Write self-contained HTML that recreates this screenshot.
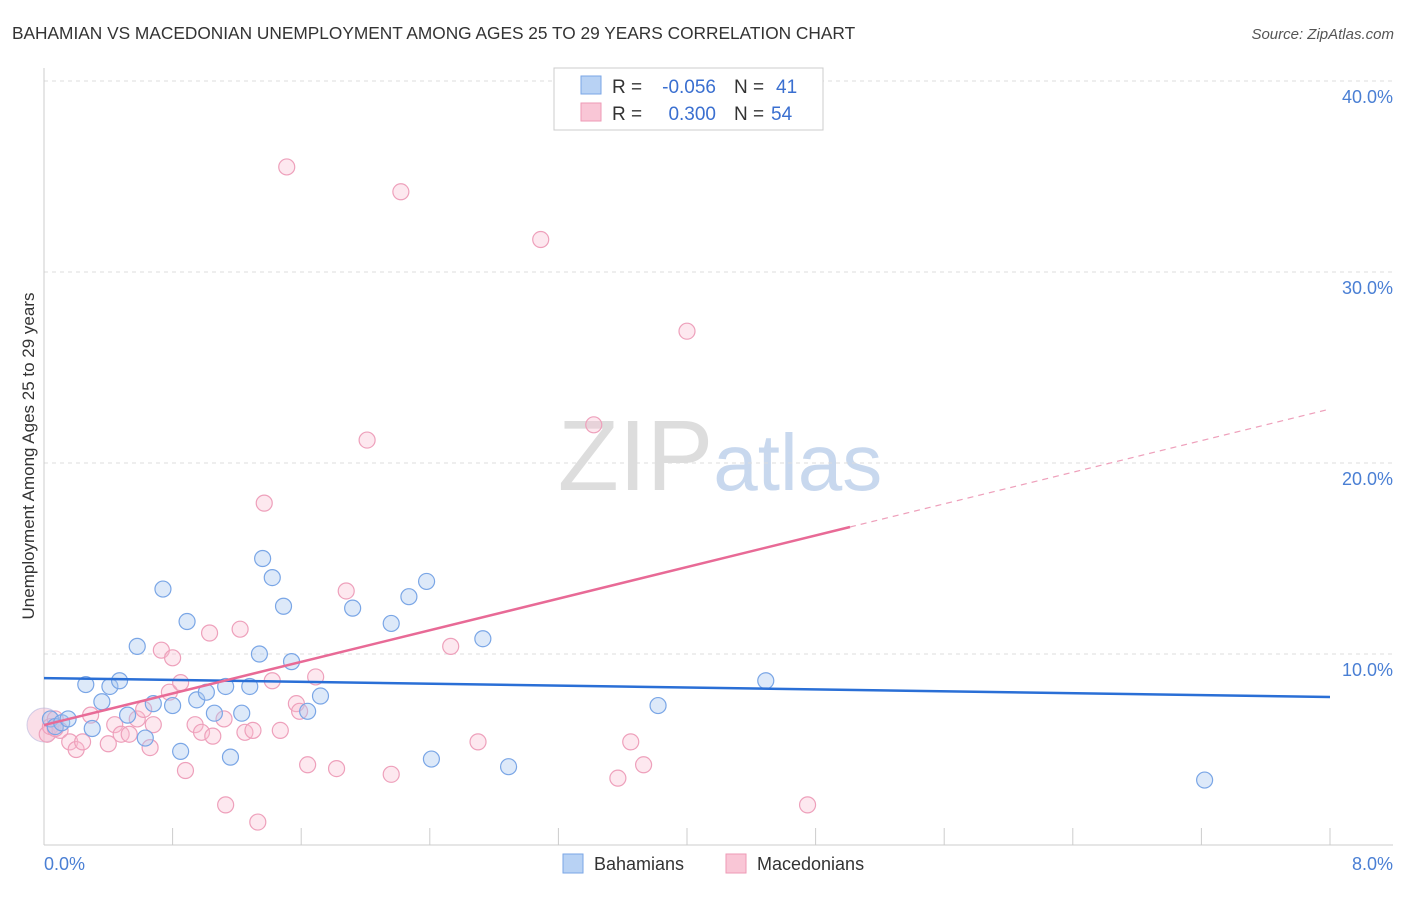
<!DOCTYPE html>
<html><head><meta charset="utf-8"><style>
body{margin:0;background:#fff;font-family:"Liberation Sans",sans-serif}
svg text{font-family:"Liberation Sans",sans-serif}
</style></head><body>
<svg id="chart" width="1406" height="892" viewBox="0 0 1406 892" xmlns="http://www.w3.org/2000/svg">
<text x="12" y="39" font-size="17.3" fill="#333">BAHAMIAN VS MACEDONIAN UNEMPLOYMENT AMONG AGES 25 TO 29 YEARS CORRELATION CHART</text>
<text x="1394" y="39" font-size="15" fill="#555" font-style="italic" text-anchor="end">Source: ZipAtlas.com</text>
<text x="720" y="490" font-size="100" text-anchor="middle" fill="#ddd" font-family="Liberation Serif">ZIP<tspan fill="#c8d8ee" font-family="Liberation Sans" font-size="80">atlas</tspan></text>
<g id="grid"></g>
<g id="axes"></g>
<g id="points"></g>
<g id="trends"></g>
<text transform="translate(34,456) rotate(-90)" font-size="17" fill="#333" text-anchor="middle">Unemployment Among Ages 25 to 29 years</text>
<text x="44" y="870" font-size="18" fill="#4a7fd4">0.0%</text>
<text x="1393" y="870" font-size="18" fill="#4a7fd4" text-anchor="end">8.0%</text>
<g>
<rect x="554" y="68" width="269" height="62" fill="#fff" stroke="#ccc"/>
<rect x="581" y="76" width="20" height="18" fill="#b8d2f4" stroke="#7aa6e6"/>
<rect x="581" y="103" width="20" height="18" fill="#f9c6d6" stroke="#ee9ab6"/>
<text x="612" y="93" font-size="19" fill="#333">R =</text>
<text x="716" y="93" font-size="19" fill="#3a6fd0" text-anchor="end">-0.056</text>
<text x="734" y="93" font-size="19" fill="#333">N =</text>
<text x="776" y="93" font-size="19" fill="#3a6fd0">41</text>
<text x="612" y="120" font-size="19" fill="#333">R =</text>
<text x="716" y="120" font-size="19" fill="#3a6fd0" text-anchor="end">0.300</text>
<text x="734" y="120" font-size="19" fill="#333">N =</text>
<text x="771" y="120" font-size="19" fill="#3a6fd0">54</text>
</g>
<g>
<rect x="563" y="854" width="20" height="19" fill="#b8d2f4" stroke="#7aa6e6"/>
<text x="594" y="870" font-size="18" fill="#333">Bahamians</text>
<rect x="726" y="854" width="20" height="19" fill="#f9c6d6" stroke="#ee9ab6"/>
<text x="757" y="870" font-size="18" fill="#333">Macedonians</text>
</g>
</svg>
<script>
const yTicks=[10,20,30,40];
const yTickLabels=["10.0%","20.0%","30.0%","40.0%"];
const xTicks=[0,0.8,1.6,2.4,3.2,4.0,4.8,5.6,6.4,7.2,8.0];
const bahX=[0.04,0.07,0.11,0.15,0.26,0.30,0.36,0.41,0.47,0.52,0.58,0.63,0.68,0.74,0.80,0.85,0.89,0.95,1.01,1.06,1.13,1.16,1.23,1.28,1.34,1.36,1.42,1.49,1.54,1.64,1.72,1.92,2.16,2.27,2.38,2.41,2.73,2.89,3.82,4.49,7.22];
const bahY=[6.6,6.2,6.4,6.6,8.4,6.1,7.5,8.3,8.6,6.8,10.4,5.6,7.4,13.4,7.3,4.9,11.7,7.6,8.0,6.9,8.3,4.6,6.9,8.3,10.0,15.0,14.0,12.5,9.6,7.0,7.8,12.4,11.6,13.0,13.8,4.5,10.8,4.1,7.3,8.6,3.4];
const macX=[0.02,0.04,0.07,0.10,0.16,0.20,0.24,0.29,0.40,0.44,0.48,0.53,0.58,0.62,0.66,0.68,0.73,0.78,0.80,0.85,0.88,0.94,0.98,1.03,1.05,1.12,1.13,1.22,1.25,1.30,1.33,1.37,1.42,1.47,1.51,1.57,1.59,1.64,1.69,1.82,1.88,2.01,2.16,2.22,2.53,2.70,3.09,3.42,3.57,3.65,3.73,4.00,4.75,0.07];
const macY=[5.8,6.2,6.6,6.0,5.4,5.0,5.4,6.8,5.3,6.3,5.8,5.8,6.6,7.1,5.1,6.3,10.2,8.0,9.8,8.5,3.9,6.3,5.9,11.1,5.7,6.6,2.1,11.3,5.9,6.0,1.2,17.9,8.6,6.0,35.5,7.4,7.0,4.2,8.8,4.0,13.3,21.2,3.7,34.2,10.4,5.4,31.7,22.0,3.5,5.4,4.2,26.9,2.1,6.1];
const bahTrend=[8.74,7.75];
const macTrend=[6.28,2.068];
const X=v=>44+v*160.75, Y=v=>845-v*19.1;
const NS="http://www.w3.org/2000/svg";
function mk(t,a,p){const e=document.createElementNS(NS,t);for(const k in a)e.setAttribute(k,a[k]);p.appendChild(e);return e;}
const grid=document.getElementById('grid'),axes=document.getElementById('axes'),pts=document.getElementById('points'),tr=document.getElementById('trends');
yTicks.forEach((t,i)=>{
 const l=mk('line',{x1:44,x2:1393,y1:Y(t),y2:Y(t),stroke:'#ddd','stroke-dasharray':'4,4'},grid);
 
 
 const tx=mk('text',{x:1393,y:Y(t)+22,'font-size':18,fill:'#4a7fd4','text-anchor':'end'},grid);
 tx.textContent=yTickLabels[i];
 
 
});
const ax=mk('line',{x1:44,x2:1393,y1:845,y2:845,stroke:'#ccc'},axes);


const ay=mk('line',{x1:44,x2:44,y1:68,y2:845,stroke:'#ccc'},axes);


xTicks.forEach(v=>{
 const l=mk('line',{x1:X(v),x2:X(v),y1:828,y2:845,stroke:'#ccc'},axes);
 
 });
const big=mk('circle',{cx:44,cy:725,r:17,fill:'rgba(240,160,190,0.35)',stroke:'rgba(180,180,220,0.6)'},pts);


macX.forEach((x,i)=>{const c=mk('circle',{cx:X(x),cy:Y(macY[i]),r:8,fill:'rgba(248,190,210,0.35)',stroke:'#eea0bb','stroke-width':1.2},pts);
 
 });
bahX.forEach((x,i)=>{const c=mk('circle',{cx:X(x),cy:Y(bahY[i]),r:8,fill:'rgba(170,200,240,0.4)',stroke:'#7aa6e6','stroke-width':1.2},pts);
 
 });
const b=mk('line',{x1:X(0),y1:Y(bahTrend[0]),x2:X(8),y2:Y(bahTrend[1]),stroke:'#2a6fd6','stroke-width':2.5},tr);


const xe=5.014;
const m1=mk('line',{x1:X(0),y1:Y(macTrend[0]),x2:X(xe),y2:Y(macTrend[0]+macTrend[1]*xe),stroke:'#e86a96','stroke-width':2.5},tr);


const m2=mk('line',{x1:X(xe),y1:Y(macTrend[0]+macTrend[1]*xe),x2:X(8),y2:Y(macTrend[0]+macTrend[1]*8),stroke:'#eea0bb','stroke-width':1.2,'stroke-dasharray':'6,5'},tr);


</script>
</body></html>
